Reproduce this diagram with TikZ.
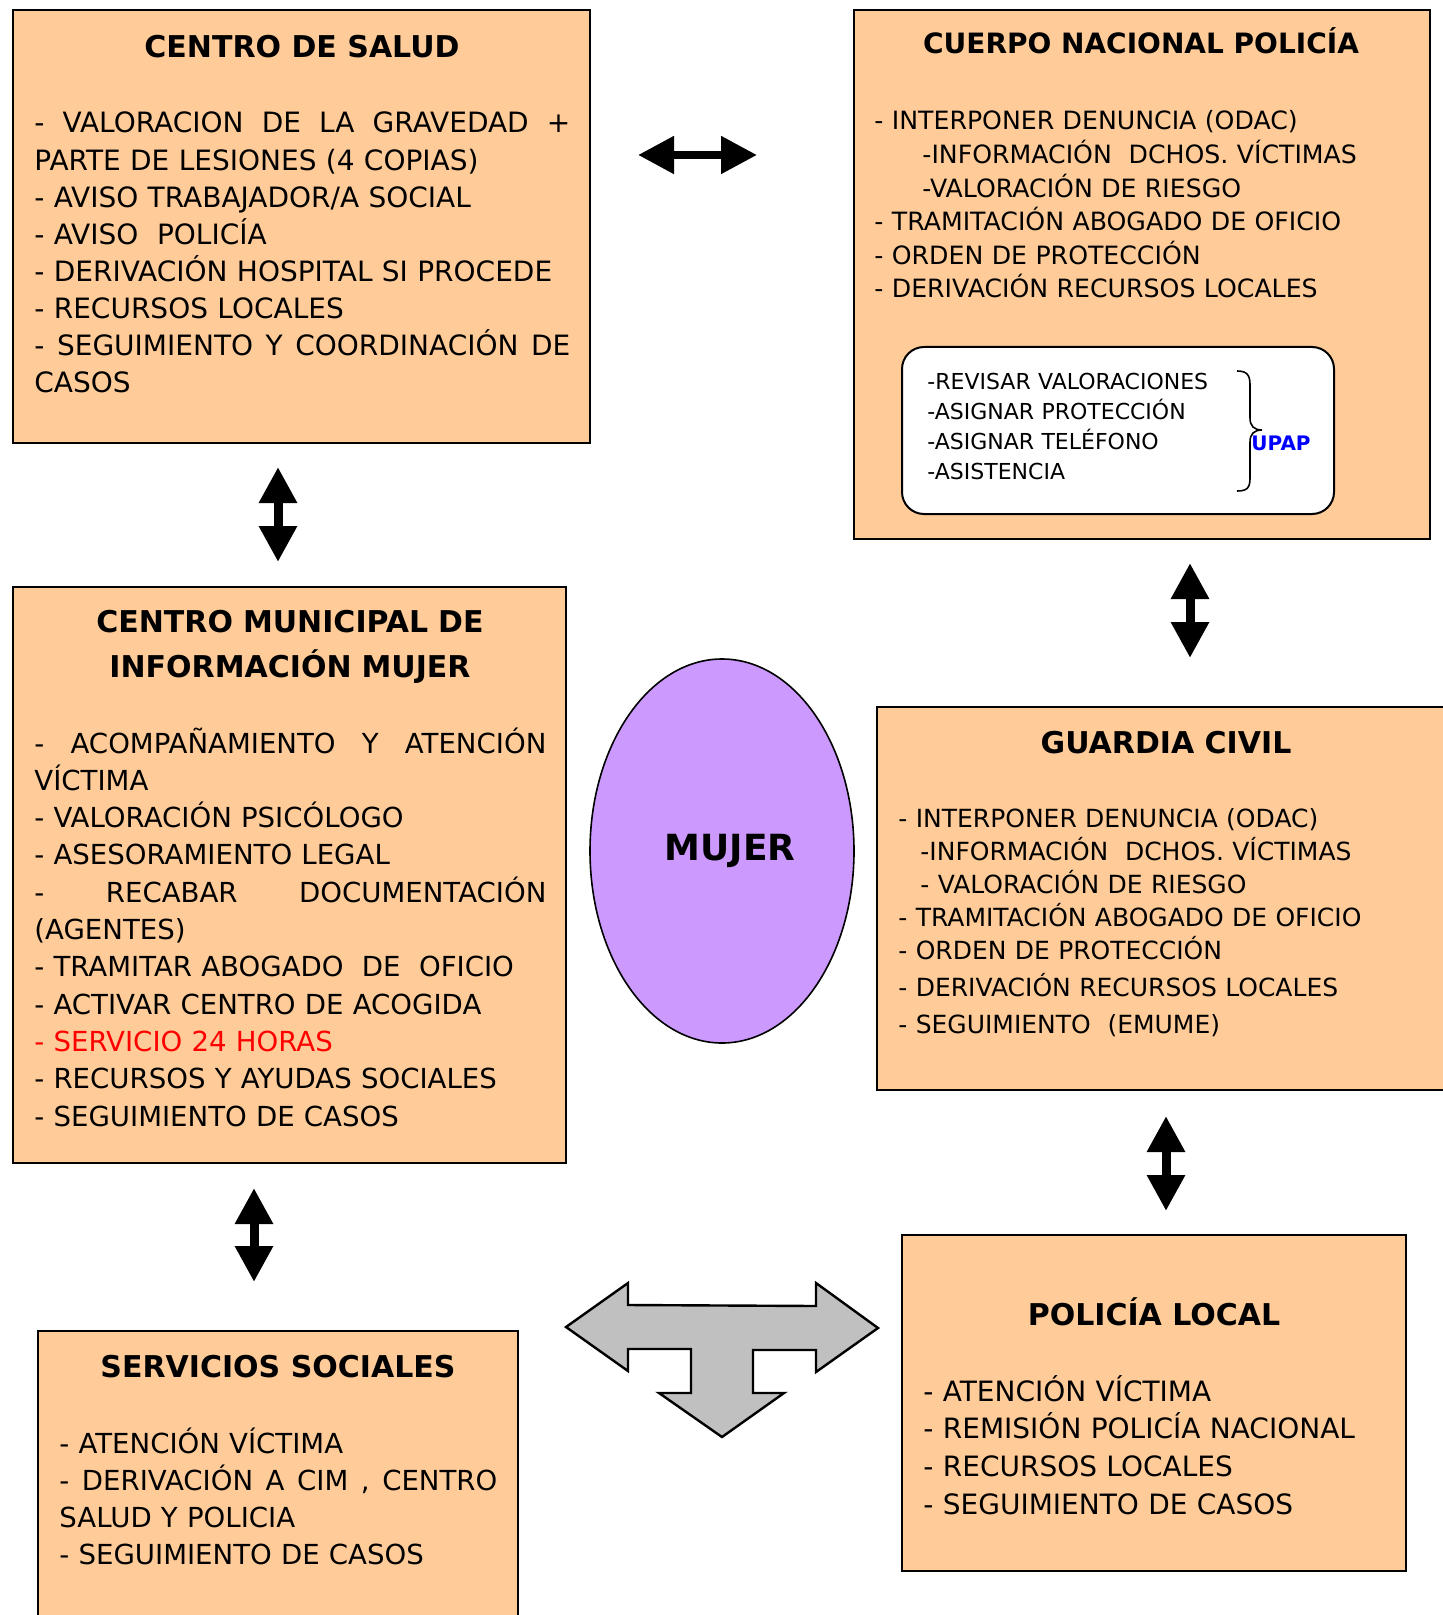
\documentclass[tikz,border=0pt]{standalone}
\usepackage{fontspec}
\setmainfont{DejaVu Sans}
\usetikzlibrary{arrows.meta,fit,shapes.geometric}
\definecolor{peach}{HTML}{FFCC99}
\definecolor{lilac}{HTML}{CC99FF}
\definecolor{grayT}{HTML}{C0C0C0}
\definecolor{upapblue}{HTML}{0000FF}
\definecolor{servred}{HTML}{FF0000}
\newcommand\jline[2]{\hbox to #1{\spaceskip=0.3em plus 1fil\relax #2}}
\tikzset{
  box/.style={draw=black,line width=1pt,fill=peach,inner sep=0pt},
  ttl/.style={font=\bfseries\fontsize{15}{22.5}\selectfont,anchor=base,inner sep=0pt,align=center},
  body/.style={anchor=base west,inner sep=0pt,align=left},
  dbl/.style={line width=4.5pt,{Triangle[length=18pt,width=18pt]}-{Triangle[length=18pt,width=18pt]}},
}
\begin{document}
\begin{tikzpicture}[x=0.5pt,y=-0.5pt]
\useasboundingbox (0,0) rectangle (1443,1615);
\clip (0,0) rectangle (1443,1615);
\fill[white] (0,0) rectangle (1443,1615);

% CENTRO DE SALUD
\node[box,fit={(13,10)(590,443)}] (cs) {};
\node[ttl] (csT) at (302,58) {CENTRO DE SALUD};
\node[body,text width=268pt,font=\fontsize{14}{18.55}\selectfont] (csB) at (34,133)
 {\leavevmode\jline{268pt}{- VALORACION DE LA GRAVEDAD +}\\
  PARTE DE LESIONES (4 COPIAS)\\
  - AVISO TRABAJADOR/A SOCIAL\\
  - AVISO~ POLICÍA\\
  - DERIVACIÓN HOSPITAL SI PROCEDE\\
  - RECURSOS LOCALES\\
  \leavevmode\jline{268pt}{- SEGUIMIENTO Y COORDINACIÓN DE}\\
  CASOS};

% CUERPO NACIONAL POLICIA
\node[box,fit={(854,10)(1430,539)}] (cnp) {};
\node[ttl,font=\bfseries\fontsize{14}{20}\selectfont] (cnpT) at (1141,54) {CUERPO NACIONAL POLICÍA};
\node[body,text width=270pt,font=\fontsize{12.6}{16.8}\selectfont] (cnpB) at (874,130)
 {- INTERPONER DENUNCIA (ODAC)\\
  \hspace*{24pt}-INFORMACIÓN~ DCHOS. VÍCTIMAS\\
  \hspace*{24pt}-VALORACIÓN DE RIESGO\\
  - TRAMITACIÓN ABOGADO DE OFICIO\\
  - ORDEN DE PROTECCIÓN\\
  - DERIVACIÓN RECURSOS LOCALES};
\node[draw=black,line width=1pt,fill=white,rounded corners=11pt,inner sep=0pt,fit={(902,347)(1334,514)}] (upapbox) {};
\node[body,text width=160pt,font=\fontsize{11}{15.15}\selectfont] (upapB) at (927,389)
 {-REVISAR VALORACIONES\\
  -ASIGNAR PROTECCIÓN\\
  -ASIGNAR TELÉFONO\\
  -ASISTENCIA};
\draw[line width=0.8pt] (1237,371) .. controls (1247,371) and (1250,375) .. (1250,385)
  -- (1250,418) .. controls (1250,426) and (1254,430) .. (1262,430)
  .. controls (1254,430) and (1250,434) .. (1250,442)
  -- (1250,478) .. controls (1250,488) and (1247,491) .. (1237,491);
\node[anchor=base west,inner sep=0pt,text=upapblue,font=\bfseries\fontsize{10}{12}\selectfont] (upap) at (1251,450) {UPAP};

% CENTRO MUNICIPAL
\node[box,fit={(13,587)(566,1163)}] (cim) {};
\node[ttl,text width=270pt] (cimT) at (290,632) {CENTRO MUNICIPAL DE\\ INFORMACIÓN MUJER};
\node[body,text width=256pt,font=\fontsize{13.8}{18.65}\selectfont] (cimB) at (34,753)
 {\leavevmode\jline{256pt}{- ACOMPAÑAMIENTO Y ATENCIÓN}\\
  VÍCTIMA\\
  - VALORACIÓN PSICÓLOGO\\
  - ASESORAMIENTO LEGAL\\
  \leavevmode\jline{256pt}{- RECABAR DOCUMENTACIÓN}\\
  (AGENTES)\\
  - TRAMITAR ABOGADO~ DE~ OFICIO\\
  - ACTIVAR CENTRO DE ACOGIDA\\
  {\color{servred}- SERVICIO 24 HORAS}\\
  - RECURSOS Y AYUDAS SOCIALES\\
  - SEGUIMIENTO DE CASOS};

% MUJER
\node[ellipse,draw=black,line width=0.8pt,fill=lilac,minimum width=132pt,minimum height=192pt,inner sep=0pt,
      font=\bfseries\fontsize{18}{20}\selectfont] (mujer) at (722,851) {\hspace*{8pt}MUJER};

% GUARDIA CIVIL
\node[box,fit={(877,707)(1470,1090)}] (gc) {};
\node[ttl] (gcT) at (1166,753) {GUARDIA CIVIL};
\node[body,text width=270pt,font=\fontsize{12.5}{16.5}\selectfont] (gcB) at (898,827)
 {- INTERPONER DENUNCIA (ODAC)\\
  \hspace*{11pt}-INFORMACIÓN~ DCHOS. VÍCTIMAS\\
  \hspace*{11pt}- VALORACIÓN DE RIESGO\\
  - TRAMITACIÓN ABOGADO DE OFICIO\\
  - ORDEN DE PROTECCIÓN\\[2pt]
  - DERIVACIÓN RECURSOS LOCALES\\[2pt]
  - SEGUIMIENTO~ (EMUME)};

% SERVICIOS SOCIALES
\node[box,fit={(38,1331)(518,1630)}] (ss) {};
\node[ttl] (ssT) at (278,1377) {SERVICIOS SOCIALES};
\node[body,text width=219pt,font=\fontsize{13.8}{18.5}\selectfont] (ssB) at (59,1453)
 {- ATENCIÓN VÍCTIMA\\
  \leavevmode\jline{219pt}{- DERIVACIÓN A CIM , CENTRO}\\
  SALUD Y POLICIA\\
  - SEGUIMIENTO DE CASOS};

% POLICIA LOCAL
\node[box,fit={(902,1235)(1406,1571)}] (pl) {};
\node[ttl] (plT) at (1154,1325) {POLICÍA LOCAL};
\node[body,text width=240pt,font=\fontsize{14}{18.85}\selectfont] (plB) at (923,1401)
 {- ATENCIÓN VÍCTIMA\\
  - REMISIÓN POLICÍA NACIONAL\\
  - RECURSOS LOCALES\\
  - SEGUIMIENTO DE CASOS};

% double arrows
\coordinate (h1) at (638,155); \coordinate (h2) at (757,155);
\draw[dbl,line width=4pt] (h1) -- (h2);
\coordinate (v1a) at (278,467); \coordinate (v1b) at (278,562);
\draw[dbl] (v1a) -- (v1b);
\coordinate (v2a) at (1190,563); \coordinate (v2b) at (1190,658);
\draw[dbl] (v2a) -- (v2b);
\coordinate (v3a) at (1166,1116); \coordinate (v3b) at (1166,1211);
\draw[dbl] (v3a) -- (v3b);
\coordinate (v4a) at (254,1188); \coordinate (v4b) at (254,1282);
\draw[dbl] (v4a) -- (v4b);

% gray T arrow
\draw[fill=grayT,line width=1.2pt,line join=miter]
 (566,1327) -- (628,1283) -- (628,1305) -- (816,1306) -- (816,1283) -- (878,1328)
 -- (816,1372) -- (816,1350) -- (753,1350) -- (753,1393) -- (784,1393) -- (722,1437)
 -- (659,1393) -- (691,1393) -- (691,1349) -- (628,1349) -- (628,1371) -- cycle;
\end{tikzpicture}
\end{document}
